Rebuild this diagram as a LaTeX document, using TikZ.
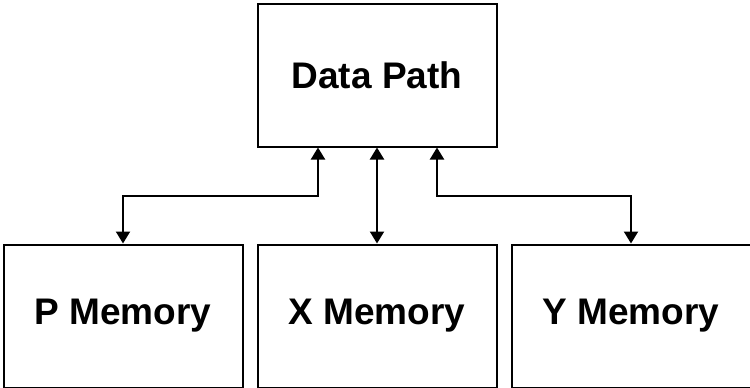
\documentclass[tikz,border=0pt]{standalone}
\usepackage{fontspec}
\setmainfont{Liberation Sans}
\usetikzlibrary{positioning, calc, arrows.meta}

\begin{document}
\begin{tikzpicture}[
        x=1pt, y=1pt,
        block/.style={rectangle, draw=black, line width=2pt, minimum width=239pt, minimum height=143pt, align=center, font=\fontsize{37}{40}\selectfont\bfseries},
        link/.style={line width=2pt, {Triangle[length=12pt,width=14pt]}-{Triangle[length=12pt,width=14pt]}},
    ]
        \useasboundingbox (0,0) rectangle (750,-388);
        \node[block] (DP) at (377,-75) {Data Path};
        \node[block, below=96pt of DP] (XM) {X Memory};
        \node[block, left=13pt of XM] (PM) {P Memory};
        \node[block, right=13pt of XM] (YM) {Y Memory};
        \coordinate (DPl) at ([xshift=-59pt]DP.south);
        \coordinate (DPr) at ([xshift=60pt]DP.south);
        \draw[link] (DPl) -- ++(0,-48) -| (PM.north);
        \draw[link] (DP.south) -- (XM.north);
        \draw[link] (DPr) -- ++(0,-48) -| (YM.north);
    \end{tikzpicture}
\end{document}
